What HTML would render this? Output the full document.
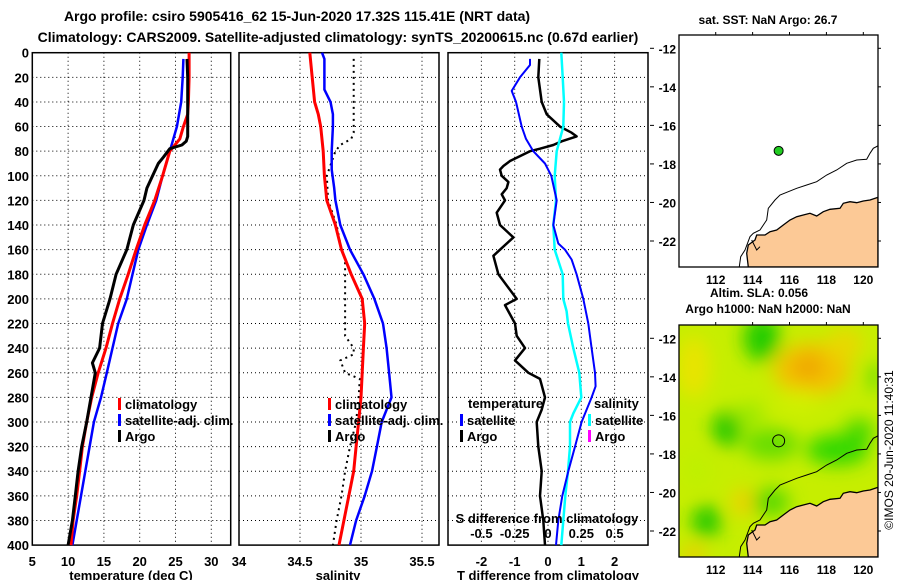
<!DOCTYPE html>
<html><head><meta charset="utf-8"><style>
html,body{margin:0;padding:0;background:#fff;}
svg{display:block;font-family:"Liberation Sans",Arial,sans-serif;font-weight:bold;}
</style></head><body>
<svg id="fig" width="900" height="580" viewBox="0 0 900 580">
<defs>
<filter id="blur" x="-50%" y="-50%" width="200%" height="200%"><feGaussianBlur stdDeviation="9"/></filter>
<clipPath id="clipMap"><rect x="0" y="0" width="199" height="232"/></clipPath>
</defs>
<text x="297" y="21" font-size="14" text-anchor="middle">Argo profile: csiro 5905416_62 15-Jun-2020 17.32S 115.41E (NRT data)</text>
<text x="338" y="42" font-size="14" text-anchor="middle">Climatology: CARS2009. Satellite-adjusted climatology: synTS_20200615.nc (0.67d earlier)</text>
<g id="plots"></g>
<g id="maps"></g>
<text transform="translate(893,450) rotate(-90)" font-size="12" font-weight="normal" text-anchor="middle">©IMOS 20-Jun-2020 11:40:31</text>
</svg>
<script>
// ---------- data ----------
const depthTicks = [0,20,40,60,80,100,120,140,160,180,200,220,240,260,280,300,320,340,360,380,400];
const tempTicks = [5,10,15,20,25,30];
const salTicks = [34,34.5,35,35.5];
const tdiffTicks = [-2,-1,0,1,2];
const sdiffTicks = [-0.5,-0.25,0,0.25,0.5];

const argoTempDepth = [5,20,40,60,68,72,75,78,85,90,100,110,120,140,160,180,200,220,240,252,260,280,300,320,340,360,380,400];
const argoTemp = [26.6,26.7,26.7,26.7,26.7,26.5,25.9,24.2,23.3,22.6,21.8,21.0,20.6,19.1,18.2,16.7,15.85,14.8,14.4,13.4,13.8,13.2,12.6,11.9,11.4,11.0,10.6,10.0];
const climTempDepth = [0,20,40,50,60,70,80,100,120,140,160,180,200,220,240,260,280,300,320,340,360,380,400];
const climTemp = [26.9,26.9,26.8,26.7,26.1,25.6,24.2,23.2,22.1,20.7,19.5,18.4,17.2,16.2,15.3,14.2,13.3,12.6,12.0,11.6,11.2,10.7,10.4];
const satTempDepth = [5,20,40,60,80,100,120,140,160,180,200,220,240,260,280,300,320,340,360,380,400];
const satTemp = [26.1,26.0,25.8,25.2,24.2,23.2,22.3,21.0,19.8,19.0,18.2,17.0,16.2,15.4,14.6,13.6,13.0,12.4,11.8,11.2,10.6];

const climSalDepth = [0,20,40,50,60,80,100,120,140,160,180,200,220,240,260,280,300,320,340,360,380,400];
const climSal = [34.58,34.60,34.62,34.65,34.67,34.69,34.70,34.72,34.79,34.84,34.92,35.01,35.03,35.02,35.01,35.00,34.98,34.96,34.94,34.90,34.86,34.82];
const satSalDepth = [0,5,30,40,50,60,80,95,110,120,140,160,180,200,220,240,260,280,300,320,340,360,380,400];
const satSal = [34.68,34.70,34.70,34.75,34.77,34.77,34.76,34.76,34.78,34.79,34.83,34.91,35.02,35.11,35.18,35.21,35.23,35.25,35.17,35.13,35.09,35.03,34.96,34.91];
const argoSalDepth = [5,65,70,75,80,100,120,140,160,167,200,230,240,245,250,260,265,280,300,320,340,360,380,400];
const argoSal = [34.94,34.94,34.92,34.83,34.79,34.72,34.73,34.80,34.84,34.87,34.87,34.87,34.94,34.94,34.83,34.87,34.99,34.98,34.96,34.91,34.87,34.84,34.80,34.77];

const satTdiffDepth = [5,10,20,31,40,60,70,80,90,100,120,140,155,160,168,180,200,220,240,260,271,280,300,320,340,360,380,400];
const satTdiff = [-0.54,-0.54,-0.84,-1.09,-0.96,-0.79,-0.66,-0.44,-0.09,0.1,0.26,0.16,0.31,0.51,0.71,0.86,1.06,1.21,1.31,1.41,1.43,1.31,1.01,0.81,0.61,0.43,0.31,0.24];
const argoTdiffDepth = [5,20,40,50,60,65,68,72,75,78,80,84,88,92,95,100,105,110,115,120,130,140,150,160,165,180,200,205,220,230,240,250,260,265,280,290,300,320,340,360,380,400];
const argoTdiff = [-0.26,-0.29,-0.19,-0.04,0.36,0.71,0.86,0.41,0.16,-0.24,-0.54,-0.84,-1.14,-1.34,-1.44,-1.39,-1.19,-1.24,-1.39,-1.29,-1.54,-1.44,-1.04,-1.44,-1.64,-1.49,-0.94,-1.29,-0.99,-0.94,-0.69,-0.99,-0.59,-0.24,-0.09,-0.19,-0.34,-0.29,-0.19,-0.24,-0.14,-0.09];
const satSdiffDepth = [0,20,40,60,80,100,120,140,160,180,200,210,220,240,260,280,293,300,320,340,360,380,400];
const satSdiff = [0.10,0.11,0.12,0.115,0.065,0.05,0.06,0.04,0.05,0.11,0.115,0.14,0.15,0.19,0.235,0.25,0.19,0.165,0.165,0.15,0.13,0.115,0.10];

const mapLonTicks = [112,114,116,118,120];
const mapLatTicks = [-12,-14,-16,-18,-20,-22];
const floatLon = [115.41];
const floatLat = [-17.32];

// ---------- helpers ----------
const NS = "http://www.w3.org/2000/svg";
function mk(tag, attrs, parent){const e=document.createElementNS(NS,tag);for(const k in attrs)e.setAttribute(k,attrs[k]);parent.appendChild(e);return e;}
const yD = d => 52.7 + d*1.231;
const xT = v => 32.3 + (v-5)*7.16;
const xS = v => 239 + (v-34)*122;
const xTd = v => 548 + v*33.3;
const xSd = v => 548 + v*133.2;
const PT = 52.7, PB = yD(400);
const plots = document.getElementById('plots');

function panel(name, x0, x1, ticks, xf, tickLabels, title, titleX){
  const g = mk('g',{},plots);
  
  
  depthTicks.forEach(d=>{
    if(d===0||d===400) return;
    const l = mk('line',{x1:x0,x2:x1,y1:yD(d),y2:yD(d),stroke:'#000','stroke-width':1,'stroke-dasharray':'1 3'},g);
    
    
  });
  ticks.forEach(t=>{
    const x = xf(t);
    if(x>x0+2 && x<x1-2){
      const l = mk('line',{x1:x,x2:x,y1:PT,y2:PB,stroke:'#000','stroke-width':1,'stroke-dasharray':'1 3'},g);
      
      
    }
    if(tickLabels){
      const tx = mk('text',{x:x,y:566,'font-size':13,'text-anchor':'middle'},g);
      tx.textContent = String(t);
      
      
    }
  });
  const r = mk('rect',{x:x0,y:PT,width:x1-x0,height:PB-PT,fill:'none',stroke:'#000','stroke-width':1.5},g);
  
  
  const tt = mk('text',{x:titleX,y:580,'font-size':13,'text-anchor':'middle'},g);
  tt.textContent = title;
  
  
  return g;
}
function series(g, depths, vals, xf, color, w, name, dash){
  const pts = depths.map((d,i)=>xf(vals[i]).toFixed(1)+','+yD(d).toFixed(1)).join(' ');
  const a = {points:pts,fill:'none',stroke:color,'stroke-width':w,'stroke-linejoin':'round'};
  if(dash) a['stroke-dasharray']=dash;
  const p = mk('polyline',a,g);
  
  
}
function legend(g, x, y, color, label, name){
  const m = mk('rect',{x:x,y:y-10,width:3,height:12,fill:color},g);
  
  
  if(label){
    const t = mk('text',{x:x+7,y:y+1,'font-size':13},g);
    t.textContent = label;
    
    
  }
}

depthTicks.forEach(d=>{
  const t = mk('text',{x:29,y:yD(d)+5,'font-size':13,'text-anchor':'end'},plots);
  t.textContent = String(d);
  
  
});

const g1 = panel('temperature-panel', 32.3, 230.7, tempTicks, xT, true, 'temperature (deg C)', 131);
series(g1, satTempDepth, satTemp, xT, '#0000ff', 2.5, 'satellite-temperature-line');
series(g1, climTempDepth, climTemp, xT, '#ff0000', 3, 'climatology-temperature-line');
series(g1, argoTempDepth, argoTemp, xT, '#000000', 3, 'argo-temperature-line');
legend(g1, 118, 408, '#ff0000', 'climatology', 'legend-climatology');
legend(g1, 118, 424, '#0000ff', 'satellite-adj. clim.', 'legend-satellite');
legend(g1, 118, 440, '#000000', 'Argo', 'legend-argo');

const g2 = panel('salinity-panel', 239, 439, salTicks, xS, true, 'salinity', 338);
series(g2, argoSalDepth, argoSal, xS, '#000000', 2, 'argo-salinity-line', '2 4');
series(g2, satSalDepth, satSal, xS, '#0000ff', 2.5, 'satellite-salinity-line');
series(g2, climSalDepth, climSal, xS, '#ff0000', 3, 'climatology-salinity-line');
legend(g2, 328, 408, '#ff0000', 'climatology', 'legend-climatology');
legend(g2, 328, 424, '#0000ff', 'satellite-adj. clim.', 'legend-satellite');
legend(g2, 328, 440, '#000000', 'Argo', 'legend-argo');

const g3 = panel('difference-panel', 448, 648, tdiffTicks, xTd, true, 'T difference from climatology', 548);
series(g3, argoTdiffDepth, argoTdiff, xTd, '#000000', 2.5, 'argo-temperature-difference-line');
series(g3, satSdiffDepth, satSdiff, xSd, '#00ffff', 2.5, 'satellite-salinity-difference-line');
series(g3, satTdiffDepth, satTdiff, xTd, '#0000ff', 2, 'satellite-temperature-difference-line');
let t3 = mk('text',{x:468,y:408,'font-size':13},g3); t3.textContent='temperature';


t3 = mk('text',{x:594,y:408,'font-size':13},g3); t3.textContent='salinity';


legend(g3, 460, 424, '#0000ff', 'satellite', 'legend-t-satellite');
legend(g3, 460, 440, '#000000', 'Argo', 'legend-t-argo');
legend(g3, 588, 424, '#00ffff', 'satellite', 'legend-s-satellite');
legend(g3, 588, 440, '#ff00ff', 'Argo', 'legend-s-argo');
t3 = mk('text',{x:547,y:523,'font-size':13,'text-anchor':'middle'},g3); t3.textContent='S difference from climatology';


sdiffTicks.forEach(s=>{
  const t = mk('text',{x:xSd(s),y:538,'font-size':13,'text-anchor':'middle'},g3);
  t.textContent = String(s);
  
  
});

// ---------- maps ----------
const maps = document.getElementById('maps');
const MX=679, MW=199, MH=232;
const lonX = lon => (lon-110.01)*18.45;
const latY = lat => (-11.31-lat)*19.27;
const landPath = "M69.3,232 L67.7,218.3 69.3,210 76,205 77.7,200 86,200 91,196.7 97.7,195 104.3,190 111,185 117.7,181.7 124.3,180 131,178.3 137.7,181 144.3,176.7 151,174.3 161,173.3 164.3,168.3 171,166.7 177.7,167.7 184.3,166 191,165 199,162.3 199,232 Z";
const contour = "60.3,231.7 61.7,221.7 66,215 71,201.7 74.3,198.3 81,195 87.7,185 89.3,173.3 96,165 101,160 109.3,156.7 117.7,153.3 127.7,150 137.7,146.7 147.7,140 157.7,135 167.7,128.3 177.7,125 187.7,124.3 191,118.3 194.3,113.3 198.7,111";
const blobs = [
  [110.8,-13.5,0.9,1.6,'#e8e400'],[114.5,-12.0,1.0,1.2,'#22cc00'],[117.2,-13.6,2.1,1.4,'#f2c400'],
  [117.0,-13.5,0.9,0.7,'#f0a800'],[119.0,-12.3,1.0,0.8,'#e8d800'],[112.6,-16.7,0.8,0.9,'#22c800'],
  [111.5,-21.5,0.8,0.8,'#22c800'],[115.0,-17.5,1.5,0.8,'#66dd00'],[118.6,-17.8,1.7,0.8,'#33d800'],
  [120.6,-14.0,0.3,0.8,'#55d800'],[113.5,-20.5,0.6,0.7,'#f0d000'],[110.8,-23.2,0.6,0.4,'#f5c400'],
  [115.0,-20.5,1.0,0.7,'#55d800'],[111.0,-18.8,0.8,1.0,'#bff000'],[116.5,-15.3,1.2,0.6,'#d0f000'],
  [113.8,-16.0,0.8,0.6,'#99e800'],[119.8,-16.8,0.8,0.6,'#44d800']
];
function drawMap(name, y0, heat){
  const g = mk('g',{transform:`translate(${MX},${y0})`},maps);
  
  
  const inner = mk('g',{'clip-path':'url(#clipMap)'},g);
  mk('rect',{x:0,y:0,width:MW,height:MH,fill:heat?'#c6ee00':'#fff'},inner);
  if(heat){
    const hb = mk('g',{filter:'url(#blur)'},inner);
    blobs.forEach(b=>{
      mk('ellipse',{cx:lonX(b[0]),cy:latY(b[1]),rx:b[2]*18.45,ry:b[3]*19.27,fill:b[4]},hb);
    });
  }
  const land = mk('path',{d:landPath,fill:'#fcc996',stroke:'#000','stroke-width':1.3},inner);
  
  
  const c = mk('polyline',{points:contour,fill:'none',stroke:'#000','stroke-width':1},inner);
  
  
  mk('polyline',{points:"72.7,205 77.7,215 81,211.7",fill:'none',stroke:'#000','stroke-width':1},inner);
  floatLon.forEach((lon,i)=>{
    const m = mk('circle',{cx:lonX(lon),cy:latY(floatLat[i]),r:heat?6:4.5,fill:heat?'none':'#22cc22',stroke:'#000','stroke-width':1},g);
    
    
  });
  mk('rect',{x:0,y:0,width:MW,height:MH,fill:'none',stroke:'#000','stroke-width':1.3},g);
  mapLonTicks.forEach(lon=>{
    const x=lonX(lon);
    mk('line',{x1:x,x2:x,y1:-3,y2:0,stroke:'#000'},g);
    const t = mk('text',{x:x,y:MH+17,'font-size':12,'text-anchor':'middle'},g);
    t.textContent=String(lon);
    
    
  });
  mapLatTicks.forEach(lat=>{
    const y=latY(lat);
    mk('line',{x1:MW,x2:MW+3,y1:y,y2:y,stroke:'#000'},g);
    mk('line',{x1:-29,x2:-25,y1:y,y2:y,stroke:'#000'},g);
    const t = mk('text',{x:-3,y:y+5,'font-size':12,'text-anchor':'end'},g);
    t.textContent=String(lat);
    
    
  });
}
drawMap('sst-map', 35, false);
drawMap('sla-map', 325, true);
let mt = mk('text',{x:768,y:24,'font-size':12,'text-anchor':'middle'},maps); mt.textContent='sat. SST: NaN Argo: 26.7';


mt = mk('text',{x:759,y:297,'font-size':12,'text-anchor':'middle'},maps); mt.textContent='Altim. SLA: 0.056';


mt = mk('text',{x:768,y:313,'font-size':12,'text-anchor':'middle'},maps); mt.textContent='Argo h1000: NaN h2000: NaN';


</script>
</body></html>
